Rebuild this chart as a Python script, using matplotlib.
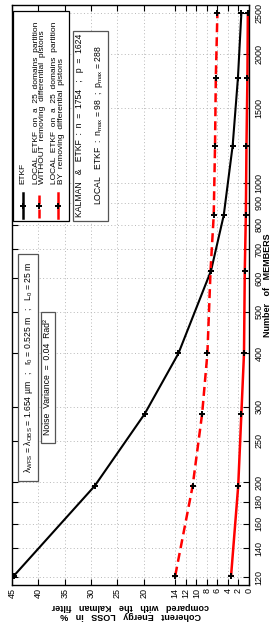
import matplotlib
matplotlib.use('Agg')
import matplotlib.pyplot as plt
from matplotlib.lines import Line2D
from matplotlib.patches import Rectangle
from matplotlib.ticker import FixedLocator, FixedFormatter, NullLocator

plt.rcParams['font.family'] = ['Liberation Sans', 'DejaVu Sans']
plt.rcParams['mathtext.fontset'] = 'custom'
plt.rcParams['mathtext.rm'] = 'Liberation Sans'
plt.rcParams['mathtext.it'] = 'Liberation Sans:italic'
plt.rcParams['mathtext.bf'] = 'Liberation Sans:bold'

# number of ensemble members (the chart is drawn turned by 90 degrees)
members = [121, 196, 289, 400, 625, 841, 1225, 1764, 2500]
# coherent energy loss in % compared with the Kalman filter
loss_etkf = [44.6, 29.3, 19.8, 13.4, 7.2, 4.8, 3.1, 2.1, 1.45]
loss_local = [14.0, 10.7, 8.9, 7.9, 7.3, 6.7, 6.45, 6.3, 6.0]
loss_local_piston = [3.4, 2.05, 1.45, 0.95, 0.8, 0.6, 0.48, 0.3, 0.22]

member_ticks = [120, 140, 160, 180, 200, 250, 300, 400, 500, 600, 700,
                800, 900, 1000, 1500, 2000, 2500]
loss_ticks = [45, 40, 35, 30, 25, 20, 14, 12, 10, 8, 6, 4, 2, 0]

legend_labels = [
    'ETKF',
    'LOCAL  ETKF  on  a  25  domains  partition\nWITHOUT  removing  differential  pistons',
    'LOCAL  ETKF  on  a  25  domains  partition\nBY  removing  differential  pistons',
]
info_lines = [
    'KALMAN   &   ETKF  :  n  =  1754   ;   p  =  1624',
    'LOCAL   ETKF  :  n$_{\\rm max}$ = 98  ;  p$_{\\rm max}$ = 288',
]
optics_text = ('λ$_{\\rm WFS}$ = λ$_{\\rm OBS}$ = 1.654 µm   ;   r$_0$ = 0.525 m'
               '   ;   L$_0$ = 25 m')
noise_text = 'Noise  Variance  =  0.04  Rad²'

W, H = 273, 625
fig = plt.figure(figsize=(W / 100, H / 100), dpi=100)


def fx(x):
    return x / W


def fy(y):
    return 1 - y / H


ax = fig.add_axes([fx(12), fy(585), 237 / W, 580 / H])

dash = (0, (3.6, 2.0))
mk = dict(marker='+', ms=4.8, mew=1.4, mec='black')
ax.plot(loss_etkf, members, color='black', lw=1.5, **mk)
ax.plot(loss_local, members, color='red', lw=1.8, ls=dash, **mk)
ax.plot(loss_local_piston, members, color='red', lw=1.8, **mk)

ax.set_xlim(45, 0)
ax.set_yscale('log')
ax.set_ylim(115, 2610)
ax.xaxis.set_major_locator(FixedLocator(loss_ticks))
ax.xaxis.set_major_formatter(FixedFormatter([str(t) for t in loss_ticks]))
ax.yaxis.set_major_locator(FixedLocator(member_ticks))
ax.yaxis.set_major_formatter(FixedFormatter([str(t) for t in member_ticks]))
ax.yaxis.set_minor_locator(NullLocator())

ax.tick_params(which='both', direction='in', length=4, width=0.8,
               top=True, bottom=True, left=True, right=True, labelsize=6.5)
ax.tick_params(axis='y', labelleft=False, labelright=True, labelrotation=90, pad=4)
ax.tick_params(axis='x', labelrotation=90, pad=2)
for lab in ax.get_yticklabels():
    lab.set_va('center')
ax.grid(True, ls=(0, (1, 2.5)), color='#b8b8b8', lw=0.7)
for sp in ax.spines.values():
    sp.set_linewidth(1.0)

fig.text(fx(267.5), fy(285), 'Number   of   MEMBERS', rotation=90, ha='center',
         va='center', fontsize=6.5, fontweight='bold')
fig.text(fx(130.5), fy(611), 'Coherent   Energy   LOSS   in   %\ncompared   with   the   Kalman   filter',
         rotation=180, ha='center', va='center', fontsize=6.5, fontweight='bold',
         linespacing=1.1)

# legend box, drawn by hand so the text can be turned
fig.add_artist(Rectangle((fx(13), fy(221)), 56 / W, 210 / H, transform=fig.transFigure,
                         fc='white', ec='black', lw=0.9, zorder=5))
handles = [('black', '-', 22.7), ('red', dash, 39.2), ('red', '-', 58.0)]
for (col, style, x) in handles:
    fig.add_artist(Line2D([fx(x)] * 3, [fy(218), fy(206), fy(193)], transform=fig.transFigure,
                          color=col, ls=style, lw=1.8, markevery=[1], zorder=6, **mk))
for (col, style, x), lab in zip(handles, legend_labels):
    fig.text(fx(x + 0.3), fy(184.5), lab, rotation=90, ha='center', va='bottom',
             multialignment='left', fontsize=6.0, linespacing=0.98, zorder=6)

# info box with the sizes of the problem
fig.add_artist(Rectangle((fx(72.7), fy(221)), 35.3 / W, 190 / H, transform=fig.transFigure,
                         fc='white', ec='#555555', lw=0.9, zorder=5))
for x, line in zip([79.5, 98.3], info_lines):
    fig.text(fx(x), fy(125), line, rotation=90, ha='center', va='center',
             fontsize=6.2, zorder=6)

# optics and noise boxes
fig.add_artist(Rectangle((fx(18), fy(481)), 20 / W, 227 / H, transform=fig.transFigure,
                         fc='white', ec='#555555', lw=0.9, zorder=5))
fig.text(fx(28.5), fy(367.5), optics_text, rotation=90, ha='center', va='center',
         fontsize=6.2, zorder=6)
fig.add_artist(Rectangle((fx(40.5), fy(443)), 14 / W, 131 / H, transform=fig.transFigure,
                         fc='white', ec='#555555', lw=0.9, zorder=5))
fig.text(fx(47.5), fy(377.5), noise_text, rotation=90, ha='center', va='center',
         fontsize=6.2, zorder=6)

fig.savefig('out.png', dpi=100)
